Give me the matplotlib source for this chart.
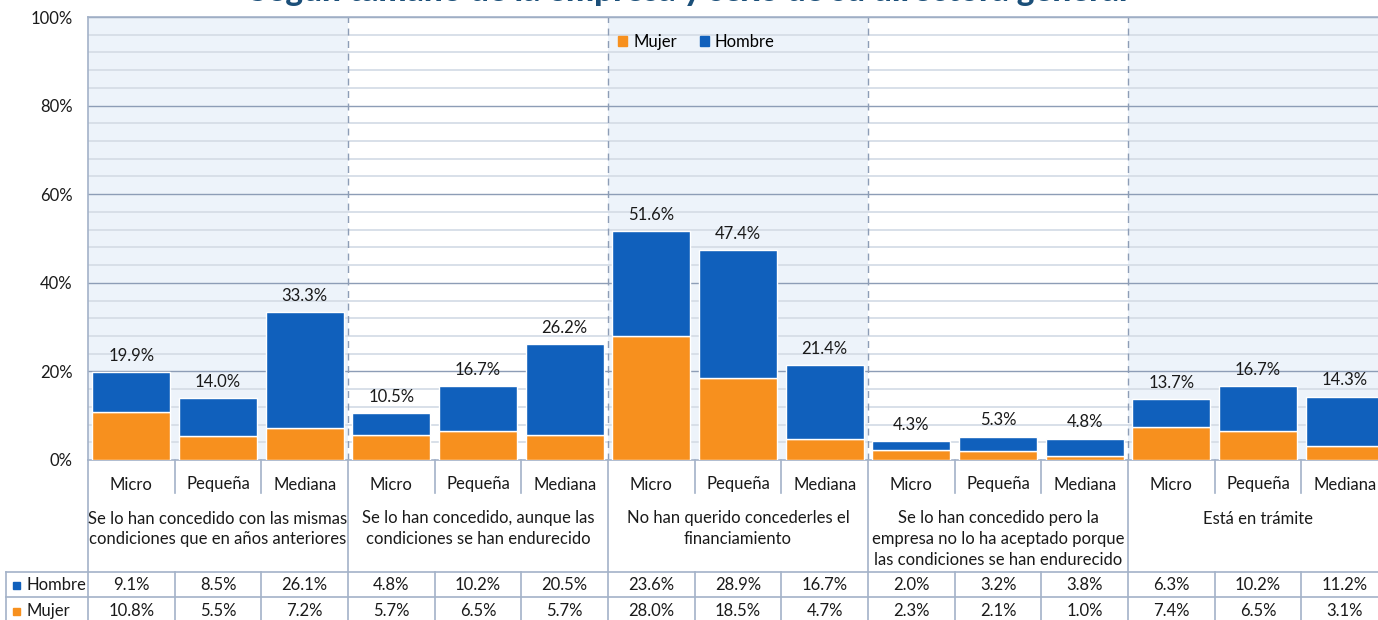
import matplotlib
matplotlib.use("Agg")
import matplotlib.pyplot as plt
from matplotlib.patches import Patch, Rectangle
import numpy as np

plt.rcParams['font.family'] = ['Lato', 'DejaVu Sans']

title = "Según tamaño de la empresa y sexo de su directora general"
groups = [
    "Se lo han concedido con las mismas\ncondiciones que en años anteriores",
    "Se lo han concedido, aunque las\ncondiciones se han endurecido",
    "No han querido concederles el\nfinanciamiento",
    "Se lo han concedido pero la\nempresa no lo ha aceptado porque\nlas condiciones se han endurecido",
    "Está en trámite",
]
sizes = ["Micro", "Pequeña", "Mediana"]
hombre = [9.1, 8.5, 26.1, 4.8, 10.2, 20.5, 23.6, 28.9, 16.7, 2.0, 3.2, 3.8, 6.3, 10.2, 11.2]
mujer = [10.8, 5.5, 7.2, 5.7, 6.5, 5.7, 28.0, 18.5, 4.7, 2.3, 2.1, 1.0, 7.4, 6.5, 3.1]
totals = [19.9, 14.0, 33.3, 10.5, 16.7, 26.2, 51.6, 47.4, 21.4, 4.3, 5.3, 4.8, 13.7, 16.7, 14.3]
yticks = [0, 20, 40, 60, 80, 100]

C_M = "#F7901E"
C_H = "#1060BC"
GRID_MAJ = "#8D9DB6"
GRID_MIN = "#D6DDE7"
SHADE = "#EDF3FA"
LINE = "#A3B2C8"
TXT = "#1a1a1a"

W, H = 1378, 620
fig = plt.figure(figsize=(W / 100, H / 100), dpi=100)

px_left, px_top, px_zero = 88, 17, 460
slot = 86.67
n = len(hombre)
axw = n * slot
ax = fig.add_axes([px_left / W, (H - px_zero) / H, axw / W, (px_zero - px_top) / H])
x = np.arange(n)
ax.set_xlim(-0.5, n - 0.5)
ax.set_ylim(0, 100)

# shading for alternate groups
for g in range(len(groups)):
    if g % 2 == 0:
        ax.axvspan(g * 3 - 0.5, g * 3 + 2.5, color=SHADE, zorder=0, lw=0)
# grid
for v in np.arange(4, 100, 4):
    if v % 20 != 0:
        ax.axhline(v, color=GRID_MIN, lw=1.3, zorder=1)
for v in yticks[1:]:
    ax.axhline(v, color=GRID_MAJ, lw=1.0, zorder=1)
for g in range(1, len(groups)):
    ax.axvline(g * 3 - 0.5, color=GRID_MAJ, lw=1.0, ls=(0, (5, 4)), zorder=1)

bw = 0.9
ax.bar(x, mujer, width=bw, color=C_M, edgecolor="white", lw=1, zorder=3, label="Mujer")
ax.bar(x, hombre, width=bw, bottom=mujer, color=C_H, edgecolor="white", lw=1, zorder=3, label="Hombre")
for xi, t in zip(x, totals):
    ax.annotate(f"{t:.1f}%", (xi, t), xytext=(0, 6), textcoords="offset points",
                ha="center", va="bottom", fontsize=12, color=TXT, zorder=4)

ax.set_yticks(yticks)
ax.set_yticklabels([f"{v}%" for v in yticks], fontsize=12, color=TXT)
ax.tick_params(axis="y", length=0, pad=11)
ax.tick_params(axis="x", length=0, labelbottom=False)
for s in ["top", "left", "bottom"]:
    ax.spines[s].set_color(LINE)
    ax.spines[s].set_linewidth(1.2)
ax.spines["right"].set_visible(False)

leg = ax.legend(handles=[Patch(color=C_M, label="Mujer"), Patch(color=C_H, label="Hombre")],
                loc="center", bbox_to_anchor=(0.468, 0.943), ncol=2, frameon=False,
                fontsize=12, handlelength=0.55, handleheight=0.55, handletextpad=0.35,
                columnspacing=1.4)

# table axes below
tax = fig.add_axes([px_left / W, 0, axw / W, (H - px_zero) / H])
tax.set_xlim(-0.5, n - 0.5)
tax.set_ylim(H - px_zero, 0)
tax.axis("off")

def hline(y, x0, x1):
    tax.plot([x0, x1], [y, y], color=LINE, lw=1.2, clip_on=False)

def vline(xv, y0, y1):
    tax.plot([xv, xv], [y0, y1], color=LINE, lw=1.2, clip_on=False)

row_h_top = 572 - px_zero
row_mid = 597 - px_zero
xl = -0.5 - (px_left - 6) / slot
hline(row_h_top, xl, n - 0.5)
hline(row_mid, xl, n - 0.5)
vline(xl, row_h_top, 170)
vline(-0.5, 0, 170)
for k in range(1, n):
    xv = k - 0.5
    if k % 3 == 0:
        vline(xv, 0, 170)
    else:
        vline(xv, 0, 33)
        vline(xv, row_h_top, 170)

for xi in x:
    tax.text(xi, 24.5, sizes[xi % 3], ha="center", va="center", fontsize=12, color=TXT)
for g, lab in enumerate(groups):
    tax.text(g * 3 + 1, 50.5, lab, ha="center", va="top", fontsize=12, color=TXT, linespacing=1.35)

y_h = 585 - px_zero
y_m = 611 - px_zero
for xi in x:
    tax.text(xi, y_h, f"{hombre[xi]:.1f}%", ha="center", va="center", fontsize=12, color=TXT)
    tax.text(xi, y_m, f"{mujer[xi]:.1f}%", ha="center", va="center", fontsize=12, color=TXT)

sq = 7 / slot
for yy, col, lab in [(y_h, C_H, "Hombre"), (y_m, C_M, "Mujer")]:
    x0 = -0.5 - (px_left - 13) / slot
    tax.add_patch(Rectangle((x0, yy - 3.5), sq, 7, color=col, clip_on=False))
    tax.text(-0.5 - (px_left - 26) / slot, yy, lab, ha="left", va="center", fontsize=12, color=TXT)

fig.text(688 / W, 1 - 1 / H, title, ha="center", va="baseline", fontsize=24,
         fontweight="black", color="#1B4F79")

fig.savefig("out.png", dpi=100)
